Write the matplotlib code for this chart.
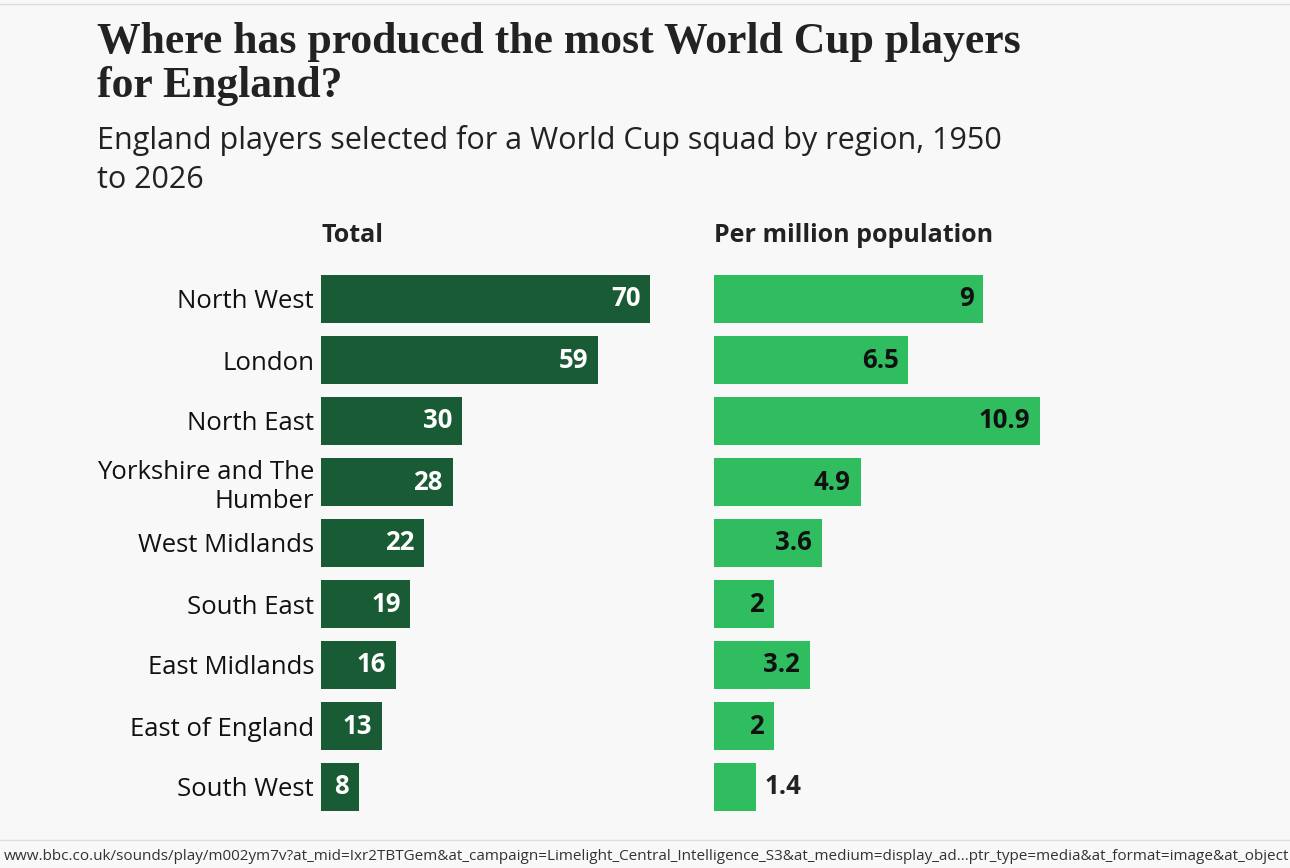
import matplotlib.pyplot as plt

regions = ['North West', 'London', 'North East', 'Yorkshire and The\nHumber',
           'West Midlands', 'South East', 'East Midlands', 'East of England', 'South West']
total = [70, 59, 30, 28, 22, 19, 16, 13, 8]
per_million = [9, 6.5, 10.9, 4.9, 3.6, 2, 3.2, 2, 1.4]

bg = '#f8f8f8'
dark_green = '#195b34'
light_green = '#30bd5f'
txt = '#222222'

plt.rcParams['font.family'] = ['Open Sans', 'DejaVu Sans']

W, H = 1290, 868
fig = plt.figure(figsize=(W / 100, H / 100), dpi=100, facecolor=bg)

def box(x0, y0, x1, y1):
    # pixel coords -> figure fraction
    return [x0 / W, 1 - y1 / H, (x1 - x0) / W, (y1 - y0) / H]

ax1 = fig.add_axes(box(321, 268.5, 650, 817.5))
ax2 = fig.add_axes(box(714, 268.5, 1040, 817.5))

y = list(range(len(regions)))

for ax, vals, col, xmax in [(ax1, total, dark_green, 70), (ax2, per_million, light_green, 10.9)]:
    ax.set_facecolor(bg)
    ax.barh(y, vals, height=0.79, color=col)
    ax.set_xlim(0, xmax)
    ax.set_ylim(len(regions) - 0.5, -0.5)
    ax.set_xticks([])
    for s in ax.spines.values():
        s.set_visible(False)

ax1.set_yticks(y)
ax1.set_yticklabels(regions, fontsize=18.5, color='#111111', linespacing=1.2)
ax1.tick_params(axis='y', length=0, pad=5)
ax2.set_yticks([])

for i, v in enumerate(total):
    ax1.annotate(str(v), (v, i), xytext=(-7, 0), textcoords='offset points',
                 ha='right', va='center', color='white', fontsize=18.5, fontweight='bold')

for i, v in enumerate(per_million):
    lab = f'{v:g}'
    if v < 1.8:
        ax2.annotate(lab, (v, i), xytext=(6, 0), textcoords='offset points',
                     ha='left', va='center', color=txt, fontsize=18.5, fontweight='bold')
    else:
        ax2.annotate(lab, (v, i), xytext=(-7, 0), textcoords='offset points',
                     ha='right', va='center', color='#111111', fontsize=18.5, fontweight='bold')

fig.text(321 / W, 1 - 235 / H, 'Total', fontsize=18, fontweight='bold', color=txt, va='center')
fig.text(714 / W, 1 - 235 / H, 'Per million population', fontsize=18, fontweight='bold',
         color=txt, va='center')

fig.text(97 / W, 1 - 64 / H, 'Where has produced the most World Cup players\nfor England?',
         fontsize=31.5, fontweight='bold', family='Liberation Serif', color=txt,
         va='center', linespacing=1.15)
fig.text(97 / W, 1 - 160 / H, 'England players selected for a World Cup squad by region, 1950\nto 2026',
         fontsize=22, color=txt, va='center', linespacing=1.4)

# browser chrome lines and url bar
fig.add_artist(plt.Line2D([0, 1], [1 - 4 / H, 1 - 4 / H], color='#dddddd', lw=1))
fig.add_artist(plt.Line2D([0, 1], [1 - 840 / H, 1 - 840 / H], color='#dddddd', lw=1))
fig.text(4 / W, 1 - 857 / H,
         'www.bbc.co.uk/sounds/play/m002ym7v?at_mid=Ixr2TBTGem&at_campaign=Limelight_Central_Intelligence_S3&at_medium=display_ad...ptr_type=media&at_format=image&at_object',
         fontsize=11, color='#333333', va='center')

fig.savefig('out.png', dpi=100, facecolor=bg)
